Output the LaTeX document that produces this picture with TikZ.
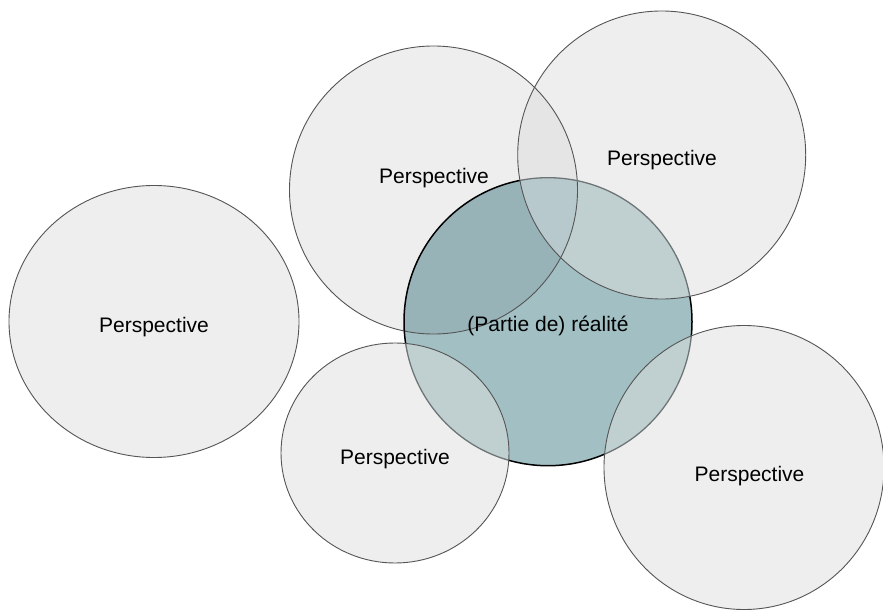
\documentclass[tikz,border=0pt]{standalone}
\usepackage{fontspec}
\setmainfont{Liberation Sans}
\definecolor{pgray}{HTML}{EEEEEE}
\definecolor{pline}{HTML}{555555}
\definecolor{pcover}{HTML}{6E7576}
\definecolor{tealbase}{HTML}{A2BFC3}
\definecolor{tealdark}{HTML}{97B3B8}
\definecolor{teallight}{HTML}{C0D0D1}
\definecolor{tealmid}{HTML}{B7C9CC}
\definecolor{graydark}{HTML}{E5E5E5}
\def\pL{(154,321.5) ellipse [x radius=145pt, y radius=136pt]}
\def\pTM{(433.5,190) ellipse [x radius=144pt, y radius=144pt]}
\def\pTR{(661.7,155) ellipse [x radius=144pt, y radius=144pt]}
\def\pR{(548,321.7) ellipse [x radius=144pt, y radius=144pt]}
\def\pBM{(395,453) ellipse [x radius=114pt, y radius=110pt]}
\def\pBR{(744,467.5) ellipse [x radius=140pt, y radius=142pt]}
\tikzset{
  pfill/.style={fill=pgray},
  pedge/.style={draw=pline, line width=0.9pt},
  redge/.style={draw=black, line width=1.5pt},
  cedge/.style={draw=pcover, line width=1.3pt},
  lbl/.style={anchor=base, inner sep=0pt, text=black, font=\fontsize{21}{25}\selectfont}
}
\begin{document}
\begin{tikzpicture}[x=1pt, y=-1pt]
\useasboundingbox (0,0) rectangle (883,612);
\fill[white] (0,0) rectangle (883,612);
% left
\path[pfill, pedge] \pL;
% gray fills
\path[pfill] \pTM;
\path[pfill] \pTR;
\path[pfill] \pBM;
\path[pfill] \pBR;
\begin{scope}
  \clip \pTM;
  \fill[graydark] \pTR;
\end{scope}
% reality circle
\fill[tealbase] \pR;
\begin{scope}
  \clip \pR;
  \fill[tealdark] \pTM;
  \fill[teallight] \pTR;
  \fill[teallight] \pBM;
  \fill[teallight] \pBR;
  \clip \pTM;
  \fill[tealmid] \pTR;
\end{scope}
% outlines
\path[pedge] \pTM;
\begin{scope}[even odd rule]
  \clip (-10,-10) rectangle (900,630) \pTR \pBM \pBR;
  \path[redge] \pR;
\end{scope}
\begin{scope}
  \clip \pTR;
  \path[cedge] \pR;
\end{scope}
\begin{scope}
  \clip \pBM;
  \path[cedge] \pR;
\end{scope}
\begin{scope}
  \clip \pBR;
  \path[cedge] \pR;
\end{scope}
\path[pedge] \pTR;
\path[pedge] \pBM;
\path[pedge] \pBR;
% labels
\node[lbl] (tL)  at (154,332)   {Perspective};
\node[lbl] (tTM) at (434,184)   {Perspective};
\node[lbl] (tTR) at (662,165.5) {Perspective};
\node[lbl] (tR)  at (548,331.5) {(Partie de) réalité};
\node[lbl] (tBM) at (395,464)   {Perspective};
\node[lbl] (tBR) at (749.5,481.5) {Perspective};
\end{tikzpicture}
\end{document}
